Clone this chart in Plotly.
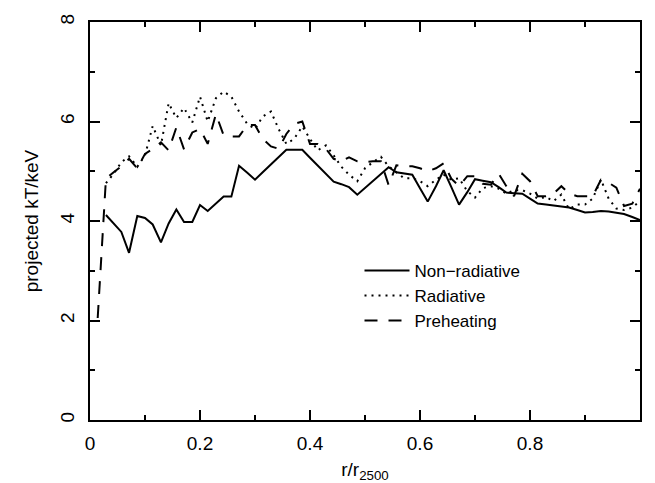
import plotly.graph_objects as go

# radial bins, r/r2500
r_bins = [0.014, 0.029, 0.043, 0.057, 0.071, 0.086, 0.1, 0.114, 0.129, 0.143,
          0.157, 0.171, 0.186, 0.2, 0.214, 0.229, 0.243, 0.257, 0.271, 0.286,
          0.3, 0.314, 0.329, 0.343, 0.357, 0.371, 0.386, 0.4, 0.414, 0.429,
          0.443, 0.457, 0.471, 0.486, 0.5, 0.514, 0.529, 0.543, 0.557, 0.571,
          0.586, 0.6, 0.614, 0.629, 0.643, 0.657, 0.671, 0.686, 0.7, 0.714,
          0.729, 0.743, 0.757, 0.771, 0.786, 0.8, 0.814, 0.829, 0.843, 0.857,
          0.871, 0.886, 0.9, 0.914, 0.929, 0.943, 0.957, 0.971, 0.986, 1.0]

kt_nonrad = [None, 4.12, 3.95, 3.78, 3.36, 4.10, 4.06, 3.93, 3.57, 3.95,
             4.23, 3.98, 3.98, 4.32, 4.20, 4.35, 4.49, 4.49, 5.11, 4.97,
             4.83, 4.98, 5.13, 5.28, 5.43, 5.43, 5.43, 5.27, 5.11, 4.95,
             4.79, 4.74, 4.68, 4.53, 4.67, 4.81, 4.95, 5.08, 4.98, 4.95,
             4.93, 4.66, 4.39, 4.70, 5.02, 4.68, 4.33, 4.58, 4.84, 4.81,
             4.78, 4.68, 4.57, 4.56, 4.55, 4.45, 4.35, 4.33, 4.31, 4.29,
             4.27, 4.22, 4.17, 4.18, 4.20, 4.19, 4.17, 4.14, 4.08, 4.02]

kt_rad = [None, 4.76, 4.95, 5.18, 5.30, 5.09, 5.32, 5.91, 5.52, 6.37,
          6.07, 6.27, 5.98, 6.50, 6.00, 6.47, 6.60, 6.50, 6.20, 5.95,
          5.85, 6.10, 6.20, 5.85, 5.55, 5.65, 5.90, 5.65, 5.42, 5.52,
          5.32, 5.09, 4.93, 4.80, 5.06, 5.18, 5.29, 5.10, 4.98, 4.86,
          4.86, 4.80, 4.70, 4.83, 4.93, 4.83, 4.86, 4.60, 4.47, 4.66,
          4.70, 4.65, 4.55, 4.62, 4.62, 4.55, 4.45, 4.48, 4.40, 4.53,
          4.24, 4.33, 4.33, 4.45, 4.83, 4.45, 4.25, 4.22, 4.27, 4.40]

kt_preheat = [2.05, 4.85, 4.98, 5.10, 5.25, 5.06, 5.35, 5.45, 5.58, 5.42,
              5.88, 5.44, 5.78, 5.85, 5.55, 6.15, 5.72, 5.70, 5.70, 5.93,
              5.93, 5.65, 5.50, 5.45, 5.75, 5.95, 6.00, 5.55, 5.55, 5.45,
              5.25, 5.20, 5.28, 5.20, 5.18, 5.20, 5.20, 4.72, 5.12, 5.10,
              5.10, 5.06, 5.00, 5.06, 5.16, 4.85, 4.70, 4.90, 4.90, 4.75,
              4.73, 4.95, 4.70, 4.50, 4.95, 4.80, 4.50, 4.50, 4.55, 4.70,
              4.55, 4.50, 4.50, 4.50, 4.83, 4.77, 4.67, 4.30, 4.35, 4.65]

x_ticks = [0, 0.2, 0.4, 0.6, 0.8]

fnt = "Liberation Sans, Arial, sans-serif"

fig = go.Figure()
fig.add_trace(go.Scatter(x=r_bins, y=kt_nonrad, mode="lines", name="Non\u2212radiative",
                         line=dict(color="black", width=2)))
fig.add_trace(go.Scatter(x=r_bins, y=kt_rad, mode="lines", name="Radiative",
                         line=dict(color="black", width=2, dash="2px,5px")))
fig.add_trace(go.Scatter(x=r_bins, y=kt_preheat, mode="lines", name="Preheating",
                         line=dict(color="black", width=2, dash="13px,11px")))

axis_common = dict(
    showgrid=False, zeroline=False, showline=True, linecolor="black", linewidth=2,
    mirror="allticks", ticks="inside", ticklen=10, tickwidth=2, tickcolor="black",
    tickfont=dict(family=fnt, size=19, color="black"), ticklabeloverflow="allow",
)

fig.update_xaxes(
    range=[0, 1], tickvals=x_ticks, ticklabelstandoff=5,
    minor=dict(dtick=0.1, tick0=0, ticks="inside", ticklen=5, tickwidth=2, tickcolor="black"),
    title=dict(text="r/r<sub>2500</sub>", font=dict(family=fnt, size=19, color="black"), standoff=10),
    **axis_common,
)
fig.update_yaxes(
    range=[0, 8], dtick=2, tickangle=-90, ticklabelstandoff=6,
    minor=dict(dtick=1, tick0=0, ticks="inside", ticklen=5, tickwidth=2, tickcolor="black"),
    title=dict(text="projected kT/keV", font=dict(family=fnt, size=19, color="black"), standoff=14),
    **axis_common,
)

# the page body adds 8px on the left and top, margins make up for it
fig.update_layout(
    width=655, height=483,
    margin=dict(l=82, r=23, t=6, b=71),
    plot_bgcolor="white", paper_bgcolor="white",
    font=dict(family=fnt, size=19, color="black"),
    legend=dict(x=0.49, y=0.42, xanchor="left", yanchor="top", itemwidth=45,
                bgcolor="rgba(0,0,0,0)", font=dict(family=fnt, size=17, color="black"),
                tracegroupgap=0),
)

fig.write_html("out.html")
